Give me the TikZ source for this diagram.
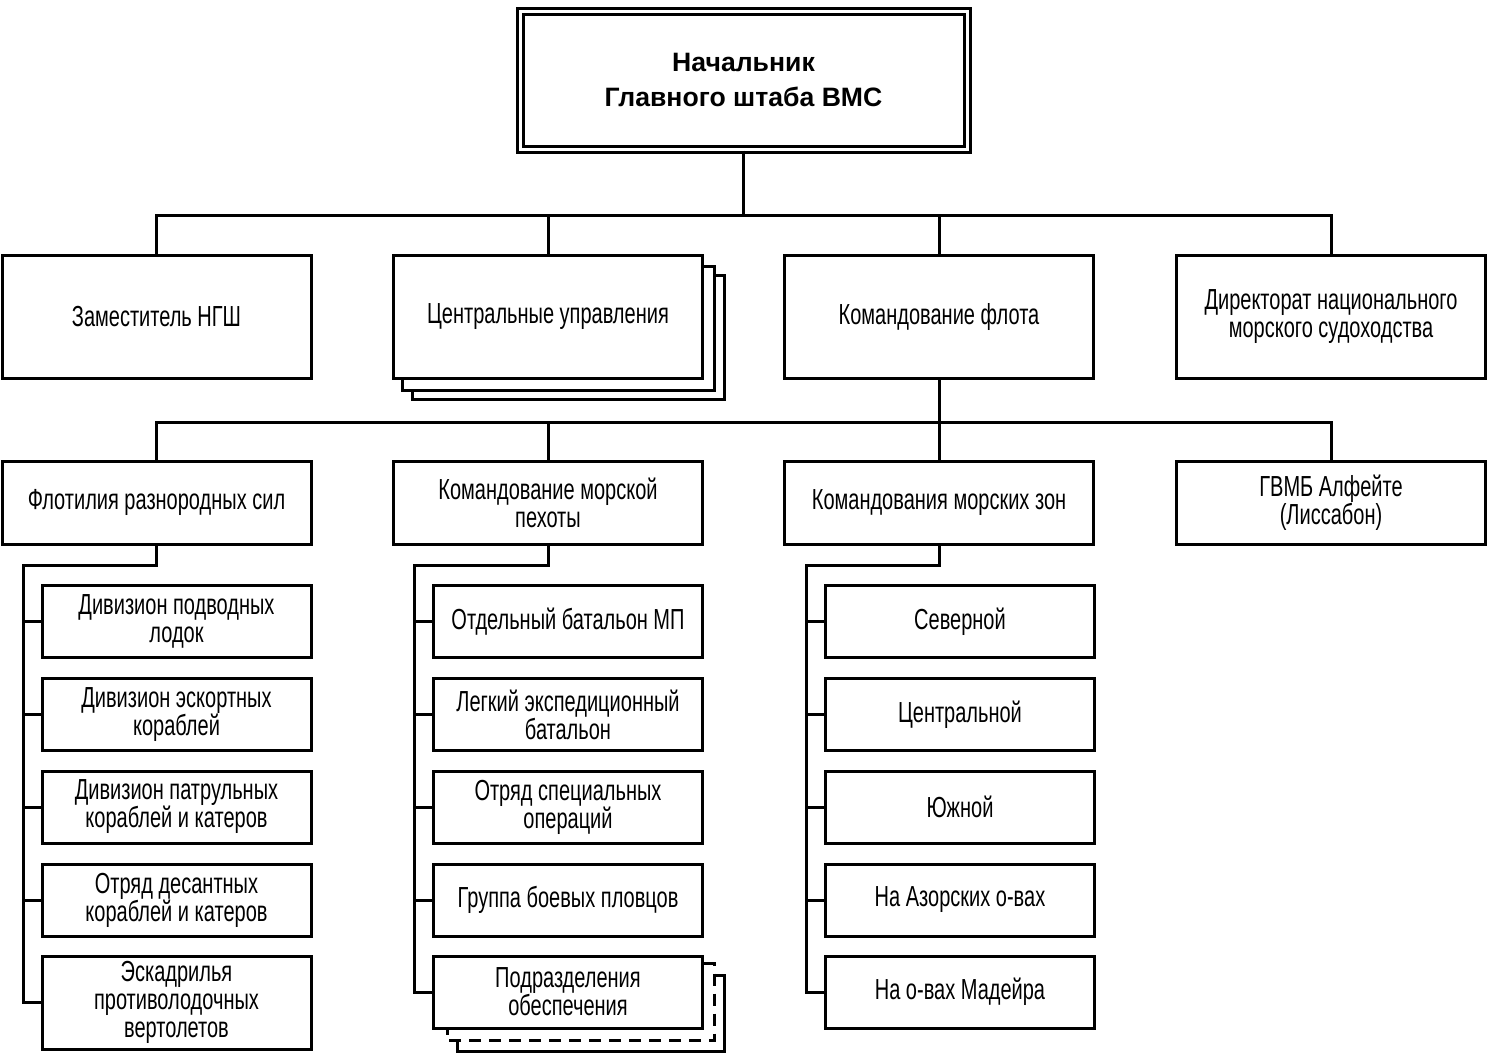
\documentclass[tikz,border=0pt]{standalone}
\usepackage{fontspec}
\setmainfont[FakeStretch=0.69]{Liberation Sans}
\newfontfamily\topfont{Liberation Sans}
\begin{document}
\begin{tikzpicture}[x=0.5pt,y=-0.5pt,
  every node/.style={inner sep=0pt},
  ln/.style={line width=1.5pt, line join=miter},
  box/.style={draw, line width=1.5pt, fill=white, align=center,
    font=\fontsize{14.5pt}{14pt}\selectfont},
  rowone/.style={box, minimum width=154.5pt, minimum height=61.5pt},
  rowtwo/.style={box, minimum width=154.5pt, minimum height=41.5pt},
  child/.style={box, minimum width=134.5pt, minimum height=36pt},
  topbox/.style={draw, line width=1.5pt, double, double distance=1.5pt,
    minimum width=223.5pt, minimum height=69pt, align=center,
    font=\topfont\bfseries\fontsize{13.3pt}{17.5pt}\selectfont}
]
\useasboundingbox (0,0) rectangle (1500,1060);

% top
\node[topbox] (top) at (743.5,80) {Начальник\\Главного штаба ВМС};

% row one
\node[rowone] (r1a) at (156.5,316.5) {Заместитель НГШ};
\node[rowone] (r1b) at (548,316.5) {Центральные управления};
\node[rowone] (r1c) at (939,316.5) {Командование флота};
\node[rowone] (r1d) at (1331,316.5) {Директорат национального\\морского судоходства};

% stack behind r1b
\draw[ln] ([shift={(0,13)}]r1b.north east) -- ([shift={(10,13)}]r1b.north east)
  -- ([shift={(10,11)}]r1b.south east) -- ([shift={(10,11)}]r1b.south west)
  -- ([shift={(10,0)}]r1b.south west);
\draw[ln] ([shift={(10,22)}]r1b.north east) -- ([shift={(20,22)}]r1b.north east)
  -- ([shift={(20,20)}]r1b.south east) -- ([shift={(20,20)}]r1b.south west)
  -- ([shift={(20,11)}]r1b.south west);

% row two
\node[rowtwo] (r2a) at (156.5,502.5) {Флотилия разнородных сил};
\node[rowtwo] (r2b) at (548,502.5) {Командование морской\\пехоты};
\node[rowtwo] (r2c) at (939,502.5) {Командования морских зон};
\node[rowtwo] (r2d) at (1331,502.5) {ГВМБ Алфейте\\(Лиссабон)};

% column a
\node[child] (a1) at (176.5,621.5) {Дивизион подводных\\лодок};
\node[child] (a2) at (176.5,714.5) {Дивизион эскортных\\кораблей};
\node[child] (a3) at (176.5,807) {Дивизион патрульных\\кораблей и катеров};
\node[child] (a4) at (176.5,900) {Отряд десантных\\кораблей и катеров};
\node[child, minimum height=46.5pt] (a5) at (176.5,1002.5) {Эскадрилья\\противолодочных\\вертолетов};

% column b
\node[child] (b1) at (568,621.5) {Отдельный батальон МП};
\node[child] (b2) at (568,714.5) {Легкий экспедиционный\\батальон};
\node[child] (b3) at (568,807) {Отряд специальных\\операций};
\node[child] (b4) at (568,900) {Группа боевых пловцов};
\node[child] (b5) at (568,992) {Подразделения\\обеспечения};

% stack behind b5
\draw[ln, dash pattern=on 6pt off 4pt] ([shift={(0,9)}]b5.north east) -- ([shift={(10,9)}]b5.north east)
  -- ([shift={(10,11)}]b5.south east) -- ([shift={(15,11)}]b5.south west)
  -- ([shift={(15,0)}]b5.south west);
\draw[ln] ([shift={(10,21)}]b5.north east) -- ([shift={(20,21)}]b5.north east)
  -- ([shift={(20,22)}]b5.south east) -- ([shift={(25,22)}]b5.south west)
  -- ([shift={(25,11)}]b5.south west);

% column c
\node[child] (c1) at (960,621.5) {Северной};
\node[child] (c2) at (960,714.5) {Центральной};
\node[child] (c3) at (960,807) {Южной};
\node[child] (c4) at (960,900) {На Азорских о-вах};
\node[child] (c5) at (960,992) {На о-вах Мадейра};

% buses
\coordinate (bus1) at (743.5,215);
\coordinate (bus2) at (939,422);
\draw[ln] (top.south) -- (bus1);
\draw[ln] (r1a.north) |- (bus1) -| (r1d.north);
\draw[ln] (r1b.north) -- (r1b.north |- bus1);
\draw[ln] (r1c.north) -- (r1c.north |- bus1);

\draw[ln] (r1c.south) -- (bus2);
\draw[ln] (r2a.north) |- (bus2) -| (r2d.north);
\draw[ln] (r2b.north) -- (r2b.north |- bus2);
\draw[ln] (r2c.north) -- (r2c.north |- bus2);

% spines
\coordinate (sa) at (23,565);
\coordinate (sb) at (414,565);
\coordinate (sc) at (806,565);
\draw[ln] (r2a.south) |- (sa) |- (a5.west);
\draw[ln] (r2b.south) |- (sb) |- (b5.west);
\draw[ln] (r2c.south) |- (sc) |- (c5.west);
\foreach \n in {a1,a2,a3,a4} \draw[ln] (\n.west) -- (\n.west -| sa);
\foreach \n in {b1,b2,b3,b4} \draw[ln] (\n.west) -- (\n.west -| sb);
\foreach \n in {c1,c2,c3,c4} \draw[ln] (\n.west) -- (\n.west -| sc);
\end{tikzpicture}
\end{document}
